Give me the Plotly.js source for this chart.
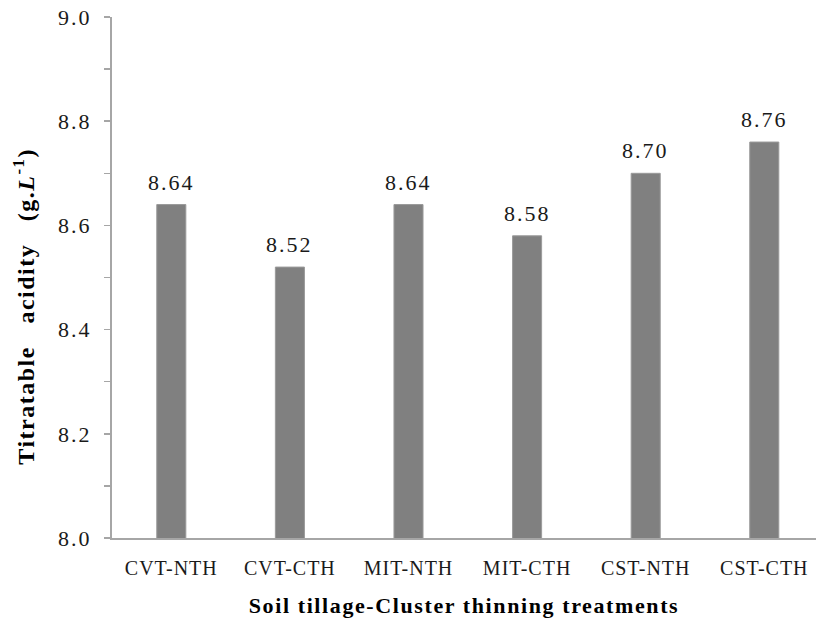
<!DOCTYPE html>
<html>
<head>
<meta charset="utf-8">
<script src="https://cdn.plot.ly/plotly-3.0.1.min.js"></script>
<style>
html,body{margin:0;padding:0;background:#fff;}
#chart{width:816px;height:624px;}
#chart .xtick text{letter-spacing:1px;}
#chart .ytick text{letter-spacing:2px;}
#chart .xtitle{letter-spacing:1.6px;}
#chart .annotation-text{letter-spacing:2px;}
#chart .annotation:last-child .annotation-text{letter-spacing:1.5px;}
</style>
</head>
<body>
<div id="chart"></div>
<script>
var categories = ["CVT-NTH", "CVT-CTH", "MIT-NTH", "MIT-CTH", "CST-NTH", "CST-CTH"];
var acidity = [8.64, 8.52, 8.64, 8.58, 8.70, 8.76];
var valueLabels = ["8.64", "8.52", "8.64", "8.58", "8.70", "8.76"];
var yTickVals = [8.0, 8.2, 8.4, 8.6, 8.8, 9.0];
var yTickText = ["8.0", "8.2", "8.4", "8.6", "8.8", "9.0"];

var serif = "'Liberation Serif', 'Times New Roman', serif";

var trace = {
  type: "bar",
  x: categories,
  y: acidity,
  marker: {color: "#808080", line: {color: "#9a9a9a", width: 1}},
  width: 0.245,
  hoverinfo: "none"
};

var annotations = categories.map(function (c, i) {
  return {
    x: c, y: acidity[i], xref: "x", yref: "y",
    text: valueLabels[i], showarrow: false,
    yanchor: "bottom", yshift: 8,
    font: {family: serif, size: 22, color: "#1a1a1a"}
  };
});
annotations.push({
  xref: "paper", yref: "paper", x: -0.125, y: 0.445,
  xanchor: "center", yanchor: "middle", textangle: -90, showarrow: false,
  text: "<b>Titratable\u00a0\u00a0\u00a0acidity\u00a0\u00a0\u00a0(g.<i>L</i><sup>-1</sup>)</b>",
  font: {family: serif, size: 24, color: "#000"}
});

var layout = {
  width: 816, height: 624,
  margin: {l: 112, r: 0, t: 17, b: 86, pad: 0},
  paper_bgcolor: "#fff", plot_bgcolor: "#fff",
  showlegend: false,
  xaxis: {
    type: "category",
    range: [-0.5, 5.436],
    showline: true, linecolor: "#a6a6a6", linewidth: 2,
    ticks: "", showgrid: false, zeroline: false,
    tickfont: {family: serif, size: 20, color: "#1a1a1a"},
    ticklabelstandoff: 11,
    title: {text: "<b>Soil tillage-Cluster thinning treatments</b>", font: {family: serif, size: 22, color: "#000"}, standoff: 20}
  },
  yaxis: {
    range: [8.0, 9.0],
    tickvals: yTickVals, ticktext: yTickText,
    showline: true, linecolor: "#a6a6a6", linewidth: 2,
    ticks: "outside", ticklen: 6, tickcolor: "#a6a6a6", tickwidth: 1.5,
    minor: {dtick: 0.1, ticks: "outside", ticklen: 6, tickcolor: "#a6a6a6", tickwidth: 1.5, showgrid: false},
    showgrid: false, zeroline: false,
    tickfont: {family: serif, size: 22, color: "#1a1a1a"},
    ticklabelstandoff: 8
  },
  annotations: annotations
};

Plotly.newPlot("chart", [trace], layout, {staticPlot: true, displayModeBar: false});
</script>
</body>
</html>
